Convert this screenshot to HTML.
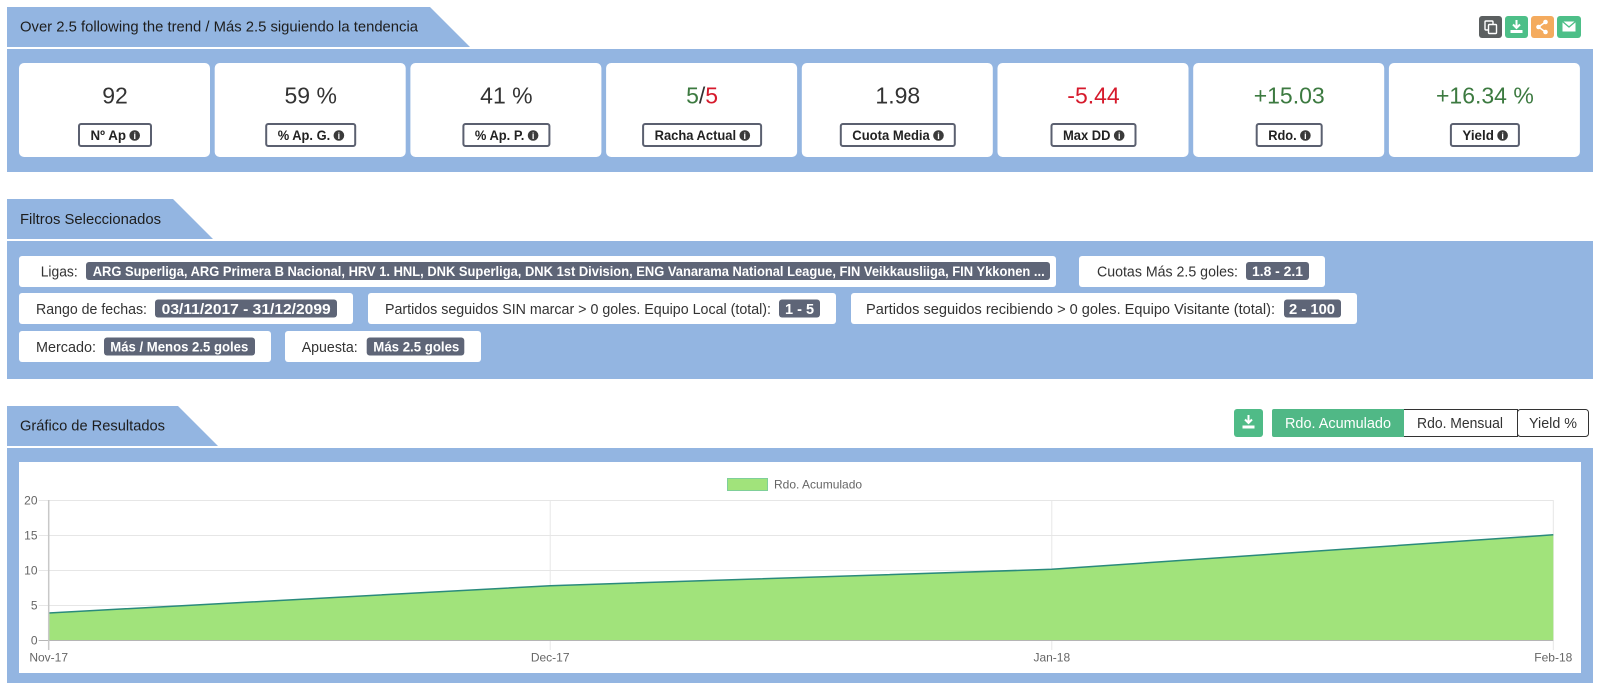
<!DOCTYPE html>
<html>
<head>
<meta charset="utf-8">
<style>
html,body{margin:0;padding:0;background:#fff;width:1599px;height:693px;overflow:hidden;}
svg{display:block;}
text{font-family:"Liberation Sans",Arial,sans-serif;}
</style>
</head>
<body>
<svg width="1599" height="693" viewBox="0 0 1599 693" xmlns="http://www.w3.org/2000/svg">
<rect x="0" y="0" width="1599" height="693" fill="#ffffff"/>

<!-- ===== Section 1 ===== -->
<polygon points="7,7 430,7 470,47 7,47" fill="#93b5e1"/>
<text x="20" y="31.5" font-size="15" fill="#1d1d1d" textLength="398" lengthAdjust="spacingAndGlyphs">Over 2.5 following the trend / Más 2.5 siguiendo la tendencia</text>

<!-- top right icon buttons -->
<rect x="1479" y="16" width="23" height="22" rx="3" fill="#5b5f60"/>
<rect x="1485" y="21" width="8" height="9" rx="1" fill="none" stroke="#fff" stroke-width="1.4"/>
<rect x="1488.5" y="24.5" width="8" height="9" rx="1" fill="#5b5f60" stroke="#fff" stroke-width="1.4"/>
<rect x="1505" y="16" width="23" height="22" rx="3" fill="#4dbf88"/>
<path d="M1516.5,20 v8 M1513,24.5 l3.5,3.5 l3.5,-3.5" stroke="#fff" stroke-width="2" fill="none"/>
<rect x="1510.5" y="30" width="12" height="3" fill="#fff"/>
<rect x="1531" y="16" width="23" height="22" rx="3" fill="#f4ab5e"/>
<path d="M1545.5,22 L1538.5,27 L1545.5,32" stroke="#fff" stroke-width="1.5" fill="none"/>
<circle cx="1545.5" cy="22" r="2.3" fill="#fff"/>
<circle cx="1538.5" cy="27" r="2.3" fill="#fff"/>
<circle cx="1545.5" cy="32" r="2.3" fill="#fff"/>
<rect x="1557" y="16" width="24" height="22" rx="3" fill="#4dbf88"/>
<rect x="1562.5" y="21.5" width="13" height="10" fill="#fff"/>
<path d="M1562.5,21.5 L1569,27 L1575.5,21.5" stroke="#4dbf88" stroke-width="1.3" fill="none"/>

<rect x="7" y="49" width="1586" height="123" fill="#93b5e1"/>

<!-- cards -->
<g>
<rect x="19" y="63" width="191" height="94" rx="5" fill="#fff"/>
<rect x="214.7" y="63" width="191" height="94" rx="5" fill="#fff"/>
<rect x="410.4" y="63" width="191" height="94" rx="5" fill="#fff"/>
<rect x="606.1" y="63" width="191" height="94" rx="5" fill="#fff"/>
<rect x="801.8" y="63" width="191" height="94" rx="5" fill="#fff"/>
<rect x="997.5" y="63" width="191" height="94" rx="5" fill="#fff"/>
<rect x="1193.2" y="63" width="191" height="94" rx="5" fill="#fff"/>
<rect x="1388.9" y="63" width="191" height="94" rx="5" fill="#fff"/>
</g>

<!-- values -->
<g font-size="23" text-anchor="middle">
<text x="115" y="103.5" fill="#333">92</text>
<text x="310.7" y="103.5" fill="#333">59 %</text>
<text x="506.4" y="103.5" fill="#333">41 %</text>
<text x="702.1" y="103.5"><tspan fill="#3c7a40">5</tspan><tspan fill="#333">/</tspan><tspan fill="#d61a2c">5</tspan></text>
<text x="897.8" y="103.5" fill="#333">1.98</text>
<text x="1093.5" y="103.5" fill="#d61a2c">-5.44</text>
<text x="1289.2" y="103.5" fill="#3c7a40">+15.03</text>
<text x="1484.9" y="103.5" fill="#3c7a40">+16.34 %</text>
</g>

<!-- label boxes -->
<g fill="none" stroke="#5b6070" stroke-width="2">
<rect x="79" y="124" width="72" height="22" rx="2"/>
<rect x="266.2" y="124" width="89" height="22" rx="2"/>
<rect x="463.4" y="124" width="86" height="22" rx="2"/>
<rect x="643.1" y="124" width="118" height="22" rx="2"/>
<rect x="840.8" y="124" width="114" height="22" rx="2"/>
<rect x="1051.5" y="124" width="84" height="22" rx="2"/>
<rect x="1256.7" y="124" width="65" height="22" rx="2"/>
<rect x="1450.9" y="124" width="68" height="22" rx="2"/>
</g>
<g font-size="13.5" font-weight="bold" fill="#222">
<text x="90.5" y="139.8" textLength="35.5" lengthAdjust="spacingAndGlyphs">Nº Ap</text>
<text x="277.7" y="139.8" textLength="52.5" lengthAdjust="spacingAndGlyphs">% Ap. G.</text>
<text x="474.9" y="139.8" textLength="49.5" lengthAdjust="spacingAndGlyphs">% Ap. P.</text>
<text x="654.6" y="139.8" textLength="81.5" lengthAdjust="spacingAndGlyphs">Racha Actual</text>
<text x="852.3" y="139.8" textLength="77.5" lengthAdjust="spacingAndGlyphs">Cuota Media</text>
<text x="1063" y="139.8" textLength="47.5" lengthAdjust="spacingAndGlyphs">Max DD</text>
<text x="1268.2" y="139.8" textLength="28.5" lengthAdjust="spacingAndGlyphs">Rdo.</text>
<text x="1462.4" y="139.8" textLength="31.5" lengthAdjust="spacingAndGlyphs">Yield</text>
</g>
<g fill="#3a3a3a">
<circle cx="134.7" cy="135.5" r="5.3"/>
<circle cx="338.9" cy="135.5" r="5.3"/>
<circle cx="533.1" cy="135.5" r="5.3"/>
<circle cx="744.8" cy="135.5" r="5.3"/>
<circle cx="938.5" cy="135.5" r="5.3"/>
<circle cx="1119.2" cy="135.5" r="5.3"/>
<circle cx="1305.4" cy="135.5" r="5.3"/>
<circle cx="1502.6" cy="135.5" r="5.3"/>
</g>
<g font-size="9" font-weight="bold" fill="#fff" text-anchor="middle">
<text x="134.7" y="138.8">i</text>
<text x="338.9" y="138.8">i</text>
<text x="533.1" y="138.8">i</text>
<text x="744.8" y="138.8">i</text>
<text x="938.5" y="138.8">i</text>
<text x="1119.2" y="138.8">i</text>
<text x="1305.4" y="138.8">i</text>
<text x="1502.6" y="138.8">i</text>
</g>

<!-- ===== Section 2: Filtros ===== -->
<polygon points="7,199 173,199 213,239 7,239" fill="#93b5e1"/>
<text x="20" y="224" font-size="15" fill="#1d1d1d" textLength="141" lengthAdjust="spacingAndGlyphs">Filtros Seleccionados</text>
<rect x="7" y="241" width="1586" height="138" fill="#93b5e1"/>

<!-- row 1 -->
<rect x="19" y="256" width="1037" height="31" rx="3" fill="#fff"/>
<rect x="1079" y="256" width="246" height="31" rx="3" fill="#fff"/>
<!-- row 2 -->
<rect x="19" y="293" width="334" height="31" rx="3" fill="#fff"/>
<rect x="368" y="293" width="468" height="31" rx="3" fill="#fff"/>
<rect x="851" y="293" width="506" height="31" rx="3" fill="#fff"/>
<!-- row 3 -->
<rect x="19" y="331" width="252" height="31" rx="3" fill="#fff"/>
<rect x="285" y="331" width="196" height="31" rx="3" fill="#fff"/>

<g font-size="15" fill="#333">
<text x="40.7" y="276.5" textLength="37" lengthAdjust="spacingAndGlyphs">Ligas:</text>
<text x="1097" y="276.5" textLength="141" lengthAdjust="spacingAndGlyphs">Cuotas Más 2.5 goles:</text>
<text x="36" y="313.8" textLength="111" lengthAdjust="spacingAndGlyphs">Rango de fechas:</text>
<text x="385" y="313.8" textLength="386" lengthAdjust="spacingAndGlyphs">Partidos seguidos SIN marcar &gt; 0 goles. Equipo Local (total):</text>
<text x="866" y="313.8" textLength="409" lengthAdjust="spacingAndGlyphs">Partidos seguidos recibiendo &gt; 0 goles. Equipo Visitante (total):</text>
<text x="36" y="351.8" textLength="60" lengthAdjust="spacingAndGlyphs">Mercado:</text>
<text x="301.7" y="351.8" textLength="56" lengthAdjust="spacingAndGlyphs">Apuesta:</text>
</g>

<g fill="#5e6577">
<rect x="86" y="262" width="964" height="18" rx="3"/>
<rect x="1246" y="262" width="63" height="18" rx="3"/>
<rect x="155" y="299.5" width="182" height="18" rx="3"/>
<rect x="779" y="299.5" width="41" height="18" rx="3"/>
<rect x="1284" y="299.5" width="57" height="18" rx="3"/>
<rect x="104" y="337.5" width="151" height="18" rx="3"/>
<rect x="366.7" y="337.5" width="97.6" height="18" rx="3"/>
</g>
<g font-size="14" font-weight="bold" fill="#fff">
<text x="92.7" y="276" textLength="952" lengthAdjust="spacingAndGlyphs">ARG Superliga, ARG Primera B Nacional, HRV 1. HNL, DNK Superliga, DNK 1st Division, ENG Vanarama National League, FIN Veikkausliiga, FIN Ykkonen ...</text>
<text x="1252" y="276" textLength="51" lengthAdjust="spacingAndGlyphs">1.8 - 2.1</text>
<text x="161.7" y="313.8" font-size="15" textLength="169" lengthAdjust="spacingAndGlyphs">03/11/2017 - 31/12/2099</text>
<text x="785" y="313.8" font-size="15" textLength="29" lengthAdjust="spacingAndGlyphs">1 - 5</text>
<text x="1289" y="313.8" font-size="15" textLength="46" lengthAdjust="spacingAndGlyphs">2 - 100</text>
<text x="110.3" y="351.5" textLength="138" lengthAdjust="spacingAndGlyphs">Más / Menos 2.5 goles</text>
<text x="373.3" y="351.5" textLength="86" lengthAdjust="spacingAndGlyphs">Más 2.5 goles</text>
</g>

<!-- ===== Section 3: Gráfico ===== -->
<polygon points="7,406 178,406 218,446 7,446" fill="#93b5e1"/>
<text x="20" y="430.5" font-size="15" fill="#1d1d1d" textLength="145" lengthAdjust="spacingAndGlyphs">Gráfico de Resultados</text>

<!-- buttons -->
<rect x="1234" y="409" width="29" height="28" rx="3" fill="#4fbb87"/>
<path d="M1248.5,415 v8 M1245,419.5 l3.5,3.5 l3.5,-3.5" stroke="#fff" stroke-width="2" fill="none"/>
<rect x="1242.5" y="425.5" width="12" height="3" fill="#fff"/>

<rect x="1517.5" y="409.5" width="71" height="27" rx="3" fill="#fff" stroke="#333" stroke-width="1"/>
<rect x="1403.5" y="409.5" width="114" height="27" fill="#fff" stroke="#333" stroke-width="1"/>
<rect x="1272" y="409" width="131" height="28" rx="2" fill="#50b886"/>
<rect x="1400" y="409" width="4" height="28" fill="#50b886"/>
<g font-size="15">
<text x="1285" y="428" fill="#fff" textLength="106" lengthAdjust="spacingAndGlyphs">Rdo. Acumulado</text>
<text x="1417" y="428" fill="#333" textLength="86" lengthAdjust="spacingAndGlyphs">Rdo. Mensual</text>
<text x="1529" y="428" fill="#333" textLength="48" lengthAdjust="spacingAndGlyphs">Yield %</text>
</g>

<rect x="7" y="448" width="1586" height="235" fill="#93b5e1"/>
<rect x="19" y="462" width="1562" height="211" fill="#fff"/>

<!-- legend -->
<rect x="727.5" y="478.5" width="40" height="12" fill="#a1e37b" stroke="#7fcf9a" stroke-width="1"/>
<text x="774" y="488.5" font-size="12" fill="#666">Rdo. Acumulado</text>

<!-- gridlines -->
<g stroke="#e6e6e6" stroke-width="1">
<line x1="38.7" y1="500.5" x2="1553.3" y2="500.5"/>
<line x1="38.7" y1="535.5" x2="1553.3" y2="535.5"/>
<line x1="38.7" y1="570.5" x2="1553.3" y2="570.5"/>
<line x1="38.7" y1="605.5" x2="1553.3" y2="605.5"/>
<line x1="550.2" y1="500" x2="550.2" y2="650"/>
<line x1="1051.8" y1="500" x2="1051.8" y2="650"/>
<line x1="1553.3" y1="500" x2="1553.3" y2="650"/>
</g>

<!-- area -->
<path d="M48.7,640 L48.7,613 L550.2,585.7 L1051.8,569.3 L1553.3,534.8 L1553.3,640 Z" fill="#a1e37b"/>
<polyline points="48.7,613 550.2,585.7 1051.8,569.3 1553.3,534.8" fill="none" stroke="#2a8a7c" stroke-width="1.5"/>

<!-- axes -->
<line x1="38.7" y1="640.5" x2="1553.3" y2="640.5" stroke="#b5b5b5" stroke-width="1"/>
<line x1="48.7" y1="500" x2="48.7" y2="650" stroke="#c8c8c8" stroke-width="1.5"/>

<!-- y labels -->
<g font-size="12" fill="#666" text-anchor="end">
<text x="37.5" y="504.5">20</text>
<text x="37.5" y="539.5">15</text>
<text x="37.5" y="574.5">10</text>
<text x="37.5" y="609.5">5</text>
<text x="37.5" y="644.5">0</text>
</g>
<!-- x labels -->
<g font-size="12" fill="#666" text-anchor="middle">
<text x="48.7" y="661.5">Nov-17</text>
<text x="550.2" y="661.5">Dec-17</text>
<text x="1051.8" y="661.5">Jan-18</text>
<text x="1553.3" y="661.5">Feb-18</text>
</g>
</svg>
</body>
</html>
